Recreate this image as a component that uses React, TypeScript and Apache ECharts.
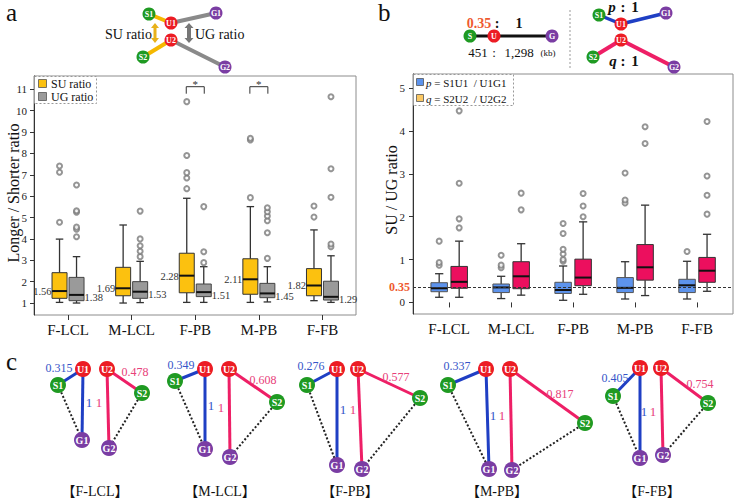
import React, { useEffect, useRef } from 'react';
import * as echarts from 'echarts';

const SERIF = 'Liberation Serif, Times New Roman, serif';
const CJK = 'Liberation Serif, Noto Sans CJK JP, serif';

// ---------- data ----------
const categories = ['F-LCL', 'M-LCL', 'F-PB', 'M-PB', 'F-FB'];

// panel a : [min, Q1, median, Q3, max]
const suRatio = [
  [1.03, 1.22, 1.56, 2.42, 3.99],
  [1.0, 1.34, 1.69, 2.67, 4.65],
  [1.03, 1.48, 2.28, 3.33, 5.9],
  [1.03, 1.41, 2.11, 3.07, 5.51],
  [1.11, 1.34, 1.82, 2.61, 4.42],
];
const ugRatio = [
  [1.0, 1.11, 1.38, 2.2, 3.17],
  [1.02, 1.22, 1.53, 2.0, 2.95],
  [1.03, 1.3, 1.51, 1.89, 2.7],
  [1.05, 1.25, 1.45, 1.92, 2.7],
  [1.03, 1.14, 1.29, 2.02, 3.21],
];
const suOutliers = [
  [4.78, 7.12, 7.41],
  [],
  [6.35, 6.85, 7.1, 7.9, 10.42],
  [5.93, 8.63, 8.71],
  [5.02, 5.54],
];
const ugOutliers = [
  [4.1, 4.45, 4.55, 5.25, 5.32, 6.52],
  [3.17, 3.42, 3.68, 4.0, 5.3],
  [2.89, 3.4, 5.51],
  [3.09, 4.29, 4.85, 5.07, 5.27, 5.46],
  [3.63, 3.76, 5.95, 7.28, 10.65],
];
const sigCategories = ['F-PB', 'M-PB'];
const sigLevel = 11.12;
const aTicks = [1, 2, 3, 4, 5, 6, 7, 8, 9, 10, 11];

// panel b : [min, Q1, median, Q3, max]
const pRatio = [
  [0.12, 0.25, 0.33, 0.46, 0.67],
  [0.09, 0.23, 0.35, 0.43, 0.61],
  [0.05, 0.21, 0.29, 0.47, 0.85],
  [0.08, 0.23, 0.34, 0.58, 0.95],
  [0.08, 0.23, 0.4, 0.54, 0.96],
];
const qRatio = [
  [0.12, 0.33, 0.48, 0.84, 1.43],
  [0.17, 0.32, 0.61, 0.95, 1.37],
  [0.19, 0.39, 0.58, 1.01, 1.88],
  [0.16, 0.52, 0.82, 1.35, 2.27],
  [0.26, 0.47, 0.74, 1.05, 1.59],
];
const pOutliers = [
  [0.87, 0.93, 1.43],
  [0.81, 0.87, 1.1],
  [0.96, 1.0, 1.13, 1.24, 1.61, 1.84],
  [2.32, 2.39, 3.02],
  [1.19],
];
const qOutliers = [
  [1.74, 1.95, 2.78, 4.47],
  [2.16, 2.55],
  [2.0, 2.25, 2.54],
  [3.71, 4.1],
  [2.06, 2.5, 2.95, 4.22],
];
const refRatio = 0.35;
const bTicks = [0, 1, 2, 3, 4, 5];

// panel c
const pMeans = [0.315, 0.349, 0.276, 0.337, 0.405];
const qMeans = [0.478, 0.608, 0.577, 0.817, 0.754];

// ---------- colours ----------
const GREEN = '#1f9a22';
const RED = '#ec1c24';
const PURPLE = '#7a3da3';
const BLUE = '#1f3fc4';
const PINK = '#ee1f66';
const YELLOW = '#fcc10f';
const GRAY = '#9a9a9a';
const BOXBLUE = '#5d93ec';
const BOXPINK = '#ec0f5e';

// ---------- helpers ----------
function txt(x: number, y: number, text: string, o: any = {}) {
  return {
    type: 'text',
    x,
    y,
    rotation: o.rotation || 0,
    silent: true,
    z: 10,
    style: {
      text,
      fill: o.fill || '#111',
      fontSize: o.fontSize || 12,
      fontFamily: o.fontFamily || SERIF,
      fontWeight: o.fontWeight || 'normal',
      fontStyle: o.fontStyle || 'normal',
      align: o.align || 'center',
      verticalAlign: o.verticalAlign || 'middle',
      rich: o.rich,
    },
  };
}
function seg(a: number[], b: number[], color: string, w: number, dash?: number[]) {
  return {
    type: 'line',
    silent: true,
    z: 5,
    shape: { x1: a[0], y1: a[1], x2: b[0], y2: b[1] },
    style: { stroke: color, lineWidth: w, lineDash: dash, lineCap: 'butt' },
  };
}
function node(p: number[], r: number, fill: string, label: string, fs = 9) {
  return [
    { type: 'circle', silent: true, z: 8, shape: { cx: p[0], cy: p[1], r }, style: { fill } },
    txt(p[0], p[1] + 0.5, label, { fill: '#fff', fontSize: fs, fontWeight: 'bold' }),
  ];
}
function dblArrow(x: number, y1: number, y2: number, color: string, hw: number, sw: number) {
  const hl = 5;
  return {
    type: 'polygon',
    silent: true,
    z: 6,
    shape: {
      points: [
        [x, y1], [x + hw, y1 + hl], [x + sw, y1 + hl], [x + sw, y2 - hl], [x + hw, y2 - hl],
        [x, y2], [x - hw, y2 - hl], [x - sw, y2 - hl], [x - sw, y1 + hl], [x - hw, y1 + hl],
      ],
    },
    style: { fill: color },
  };
}

function boxSeries(stats: number[][], xi: number, yi: number, offset: number, width: number,
  fill: string, stroke: string, labelSide?: 'left' | 'right') {
  return {
    type: 'custom',
    xAxisIndex: xi,
    yAxisIndex: yi,
    data: stats.map((s, i) => [i + 1, ...s]),
    encode: { x: 0, y: [1, 2, 3, 4, 5] },
    silent: true,
    z: 3,
    renderItem: (params: any, api: any) => {
      const xv = api.value(0);
      const xc = api.coord([xv, api.value(3)])[0] + offset;
      const yy = (k: number) => api.coord([xv, api.value(k)])[1];
      const yMin = yy(1), yQ1 = yy(2), yMed = yy(3), yQ3 = yy(4), yMax = yy(5);
      const hw = width / 2, cw = width / 4;
      const ws = { stroke: '#333', lineWidth: 1.3 };
      const children: any[] = [
        { type: 'line', shape: { x1: xc, y1: yQ3, x2: xc, y2: yMax }, style: ws },
        { type: 'line', shape: { x1: xc - cw, y1: yMax, x2: xc + cw, y2: yMax }, style: ws },
        { type: 'line', shape: { x1: xc, y1: yQ1, x2: xc, y2: yMin }, style: ws },
        { type: 'line', shape: { x1: xc - cw, y1: yMin, x2: xc + cw, y2: yMin }, style: ws },
        { type: 'rect', shape: { x: xc - hw, y: yQ3, width, height: yQ1 - yQ3 }, style: { fill, stroke, lineWidth: 1 } },
        { type: 'line', shape: { x1: xc - hw, y1: yMed, x2: xc + hw, y2: yMed }, style: { stroke: '#111', lineWidth: 2 } },
      ];
      if (labelSide) {
        children.push({
          type: 'text',
          x: labelSide === 'left' ? xc - hw - 0.5 : xc + hw + 0.5,
          y: yMed + (labelSide === 'left' ? 0.5 : 3),
          style: {
            text: api.value(3).toFixed(2),
            align: labelSide === 'left' ? 'right' : 'left',
            verticalAlign: 'middle',
            fontSize: 10.5,
            fontFamily: SERIF,
            fill: '#333',
          },
        });
      }
      return { type: 'group', children };
    },
  };
}

function outlierSeries(list: number[][], xi: number, yi: number, offset: number, extra: any = {}) {
  const data: number[][] = [];
  list.forEach((vals, i) => vals.forEach((v) => data.push([i + 1, v])));
  return {
    type: 'scatter',
    xAxisIndex: xi,
    yAxisIndex: yi,
    data,
    symbol: 'emptyCircle',
    symbolSize: 5,
    symbolOffset: [offset, 0],
    itemStyle: { color: '#7a7a7a', borderWidth: 0.9 },
    silent: true,
    z: 4,
    ...extra,
  };
}

function xAxisCfg(gridIndex: number, min: number, max: number) {
  const vals = categories.map((_, i) => i + 1);
  return {
    type: 'value',
    gridIndex,
    min,
    max,
    axisLine: { show: false },
    splitLine: { show: false },
    axisTick: { show: true, customValues: vals, length: 5, lineStyle: { color: '#333' } },
    axisLabel: {
      customValues: vals,
      formatter: (v: number) => categories[Math.round(v) - 1] || '',
      fontSize: 15,
      fontFamily: SERIF,
      color: '#111',
      margin: 7,
    },
  };
}
function yAxisCfg(gridIndex: number, min: number, max: number, ticks: number[], margin: number) {
  return {
    type: 'value',
    gridIndex,
    min,
    max,
    axisLine: { show: true, lineStyle: { color: '#333' } },
    splitLine: { show: false },
    axisTick: { show: true, customValues: ticks, length: 4, lineStyle: { color: '#333' } },
    axisLabel: { customValues: ticks, fontSize: 11, fontFamily: SERIF, color: '#222', margin },
  };
}

// ---------- panel c layouts ----------
const cLayouts = [
  { u1: [83, 369], u2: [107, 369], s1: [58, 385], s2: [142, 393], g1: [82, 440], g2: [109, 448], pl: [59, 368], ql: [135, 372], o1: [89, 402], o2: [99, 402], cap: [95, 491] },
  { u1: [205, 369], u2: [229, 369], s1: [175, 381], s2: [277, 402], g1: [205, 449], g2: [230, 457], pl: [181, 365], ql: [263, 380], o1: [211, 405], o2: [221, 407], cap: [220, 491] },
  { u1: [337, 369], u2: [358, 369], s1: [307, 385], s2: [420, 398], g1: [337, 465], g2: [362, 469], pl: [311, 366], ql: [396, 377], o1: [343, 409], o2: [353, 409], cap: [350, 491] },
  { u1: [486, 369], u2: [510, 369], s1: [448, 385], s2: [585, 423], g1: [489, 469], g2: [512, 470], pl: [457, 366], ql: [560, 394], o1: [493, 415], o2: [502, 415], cap: [497, 491] },
  { u1: [640, 368], u2: [661, 368], s1: [613, 396], s2: [708, 403], g1: [640, 458], g2: [663, 455], pl: [615, 378], ql: [700, 384], o1: [644, 411], o2: [653, 411], cap: [652, 491] },
];

function buildGraphics() {
  const els: any[] = [];
  // panel letters
  els.push(txt(6, 12, 'a', { fontSize: 25, align: 'left' }));
  els.push(txt(378, 12, 'b', { fontSize: 25, align: 'left' }));
  els.push(txt(6, 361, 'c', { fontSize: 25, align: 'left' }));

  // ---- panel a schematic ----
  const aS1 = [149, 14], aU1 = [171, 23], aG1 = [216, 13], aU2 = [171, 40], aS2 = [143, 57], aG2 = [225, 67];
  els.push(seg(aS1, aU1, '#f5b800', 4), seg(aU1, aG1, '#8a8a8a', 4), seg(aU2, aS2, '#f5b800', 4), seg(aU2, aG2, '#8a8a8a', 4));
  els.push(...node(aS1, 6.5, GREEN, 'S1', 8), ...node(aU1, 6.5, RED, 'U1', 8), ...node(aG1, 6.5, PURPLE, 'G1', 8));
  els.push(...node(aU2, 6.5, RED, 'U2', 8), ...node(aS2, 6.5, GREEN, 'S2', 8), ...node(aG2, 6.5, PURPLE, 'G2', 8));
  els.push(dblArrow(155, 23, 43, '#e8b21a', 4, 1.5), dblArrow(189, 23, 43, '#777', 4.5, 2));
  els.push(txt(152, 34, 'SU ratio', { fontSize: 14, align: 'right' }));
  els.push(txt(195, 34, 'UG ratio', { fontSize: 14, align: 'left' }));

  // panel a legend
  els.push({ type: 'rect', silent: true, z: 9, shape: { x: 34.5, y: 76.5, width: 62, height: 27 }, style: { fill: '#fff', stroke: '#999', lineWidth: 1, lineDash: [2, 2] } });
  els.push({ type: 'rect', silent: true, z: 10, shape: { x: 38.5, y: 79.5, width: 8, height: 8 }, style: { fill: YELLOW, stroke: '#555', lineWidth: 0.8 } });
  els.push({ type: 'rect', silent: true, z: 10, shape: { x: 38.5, y: 92.5, width: 8, height: 8 }, style: { fill: GRAY, stroke: '#555', lineWidth: 0.8 } });
  els.push(txt(51, 83.5, 'SU ratio', { fontSize: 12, align: 'left' }));
  els.push(txt(51, 96.5, 'UG ratio', { fontSize: 12, align: 'left' }));
  els.push(txt(13, 193, 'Longer / Shorter ratio', { fontSize: 16, rotation: Math.PI / 2 }));

  // ---- panel b schematic ----
  const bS = [470, 36], bU = [494, 36], bG = [552, 36];
  els.push(seg(bS, bG, '#111', 3));
  els.push(...node(bS, 6.5, GREEN, 'S', 8), ...node(bU, 6.5, RED, 'U', 8), ...node(bG, 6.5, PURPLE, 'G', 8));
  els.push(txt(479, 23, '0.35', { fontSize: 14, fontWeight: 'bold', fill: '#ee5a30' }));
  els.push(txt(497, 23, ':', { fontSize: 14, fontWeight: 'bold' }));
  els.push(txt(519, 23, '1', { fontSize: 14, fontWeight: 'bold' }));
  els.push(txt(478, 52, '451', { fontSize: 13 }));
  els.push(txt(494, 52, ':', { fontSize: 13 }));
  els.push(txt(519, 52, '1,298', { fontSize: 13 }));
  els.push(txt(548, 53, '(kb)', { fontSize: 9 }));
  els.push(seg([570, 10], [570, 70], '#999', 1, [2, 2]));

  const rS1 = [599, 15], rU1 = [621, 24], rG1 = [666, 13], rU2 = [621, 40], rS2 = [593, 57], rG2 = [674, 67];
  els.push(seg(rS1, rU1, BLUE, 3.5), seg(rU1, rG1, BLUE, 3.5), seg(rU2, rS2, PINK, 4), seg(rU2, rG2, PINK, 4));
  els.push(...node(rS1, 6.5, GREEN, 'S1', 8), ...node(rU1, 6.5, RED, 'U1', 8), ...node(rG1, 6.5, PURPLE, 'G1', 8));
  els.push(...node(rU2, 6.5, RED, 'U2', 8), ...node(rS2, 6.5, GREEN, 'S2', 8), ...node(rG2, 6.5, PURPLE, 'G2', 8));
  els.push(txt(612, 7, 'p', { fontSize: 15, fontWeight: 'bold', fontStyle: 'italic' }));
  els.push(txt(623, 7, ':', { fontSize: 15, fontWeight: 'bold' }));
  els.push(txt(635, 7, '1', { fontSize: 15, fontWeight: 'bold' }));
  els.push(txt(613, 61, 'q', { fontSize: 15, fontWeight: 'bold', fontStyle: 'italic' }));
  els.push(txt(623, 61, ':', { fontSize: 15, fontWeight: 'bold' }));
  els.push(txt(635, 61, '1', { fontSize: 15, fontWeight: 'bold' }));

  // panel b legend
  els.push({ type: 'rect', silent: true, z: 9, shape: { x: 413.5, y: 74.5, width: 100, height: 31 }, style: { fill: '#fff', stroke: '#999', lineWidth: 1, lineDash: [2, 2] } });
  els.push({ type: 'rect', silent: true, z: 10, shape: { x: 416.5, y: 78.5, width: 7, height: 7 }, style: { fill: BOXBLUE, stroke: '#555', lineWidth: 0.8 } });
  els.push({ type: 'rect', silent: true, z: 10, shape: { x: 416.5, y: 94.5, width: 7, height: 7 }, style: { fill: '#fbc863', stroke: '#555', lineWidth: 0.8 } });
  const rich = { i: { fontStyle: 'italic', fontSize: 11, fontFamily: SERIF, fill: '#111' } };
  els.push(txt(426, 82.5, '{i|p} = S1U1  / U1G1', { fontSize: 11, align: 'left', rich }));
  els.push(txt(426, 98.5, '{i|q} = S2U2  / U2G2', { fontSize: 11, align: 'left', rich }));
  els.push(txt(391, 190, 'SU / UG ratio', { fontSize: 16, rotation: Math.PI / 2 }));

  // ---- panel c ----
  cLayouts.forEach((L, i) => {
    els.push(seg(L.s1, L.g1, '#222', 2, [2, 2]), seg(L.s2, L.g2, '#222', 2, [2, 2]));
    els.push(seg(L.u1, L.s1, BLUE, 3), seg(L.u1, L.g1, BLUE, 3), seg(L.u2, L.s2, PINK, 3), seg(L.u2, L.g2, PINK, 3));
    els.push(...node(L.u1, 8, RED, 'U1', 10), ...node(L.u2, 8, RED, 'U2', 10));
    els.push(...node(L.s1, 8, GREEN, 'S1', 10), ...node(L.s2, 8, GREEN, 'S2', 10));
    els.push(...node(L.g1, 8, PURPLE, 'G1', 10), ...node(L.g2, 8, PURPLE, 'G2', 10));
    els.push(txt(L.pl[0], L.pl[1], pMeans[i].toFixed(3), { fontSize: 12, fill: '#3555c8' }));
    els.push(txt(L.ql[0], L.ql[1], qMeans[i].toFixed(3), { fontSize: 12, fill: '#e8407a' }));
    els.push(txt(L.o1[0], L.o1[1], '1', { fontSize: 13, fill: '#3555c8' }));
    els.push(txt(L.o2[0], L.o2[1], '1', { fontSize: 13, fill: '#e8407a' }));
    els.push(txt(L.cap[0], L.cap[1], '【' + categories[i] + '】', { fontSize: 14, fontFamily: CJK }));
  });
  return els;
}

function buildOption() {
  const sigData = sigCategories.map((c) => [categories.indexOf(c) + 1, sigLevel]);
  return {
    animation: false,
    grid: [
      { left: 34, top: 76, width: 322, height: 239, show: true, borderColor: '#8c8c8c', borderWidth: 1 },
      { left: 413, top: 74, width: 320, height: 240, show: true, borderColor: '#8c8c8c', borderWidth: 1 },
    ],
    xAxis: [xAxisCfg(0, 0.465, 5.527), xAxisCfg(1, 0.416, 5.58)],
    yAxis: [yAxisCfg(0, 0.44, 11.62, aTicks, 7), yAxisCfg(1, -0.27, 5.33, bTicks, 8)],
    series: [
      boxSeries(suRatio, 0, 0, -8.5, 15, YELLOW, '#333', 'left'),
      boxSeries(ugRatio, 0, 0, 8.5, 15, GRAY, '#444', 'right'),
      outlierSeries(suOutliers, 0, 0, -8.5),
      outlierSeries(ugOutliers, 0, 0, 8.5),
      {
        type: 'custom',
        xAxisIndex: 0,
        yAxisIndex: 0,
        data: sigData,
        silent: true,
        renderItem: (params: any, api: any) => {
          const p = api.coord([api.value(0), api.value(1)]);
          const x = p[0], y = p[1];
          return {
            type: 'group',
            children: [
              { type: 'polyline', shape: { points: [[x - 9, y + 7], [x - 9, y], [x + 9, y], [x + 9, y + 7]] }, style: { stroke: '#333', lineWidth: 1, fill: 'none' } },
              { type: 'text', x, y: y - 3, style: { text: '*', align: 'center', verticalAlign: 'middle', fontSize: 11, fontFamily: SERIF, fill: '#333' } },
            ],
          };
        },
      },
      boxSeries(pRatio, 1, 1, -10, 16.5, BOXBLUE, '#555'),
      boxSeries(qRatio, 1, 1, 10, 16.5, BOXPINK, '#333'),
      outlierSeries(pOutliers, 1, 1, -10, {
        markLine: {
          silent: true,
          symbol: ['none', 'none'],
          data: [{ yAxis: refRatio }],
          lineStyle: { type: [3, 2], color: '#333', width: 1 },
          label: {
            show: true,
            position: 'start',
            formatter: String(refRatio),
            color: '#ee5a30',
            fontWeight: 'bold',
            fontFamily: SERIF,
            fontSize: 12,
            distance: 3,
          },
        },
      }),
      outlierSeries(qOutliers, 1, 1, 10),
    ],
    graphic: { elements: buildGraphics() },
  };
}

export default function App() {
  const ref = useRef<HTMLDivElement>(null);
  useEffect(() => {
    document.body.style.margin = '0';
    if (!ref.current) return;
    const chart = echarts.init(ref.current, null, { renderer: 'svg' });
    chart.setOption(buildOption() as any);
    return () => chart.dispose();
  }, []);
  return <div ref={ref} style={{ width: 734, height: 499, background: '#fff' }} />;
}
